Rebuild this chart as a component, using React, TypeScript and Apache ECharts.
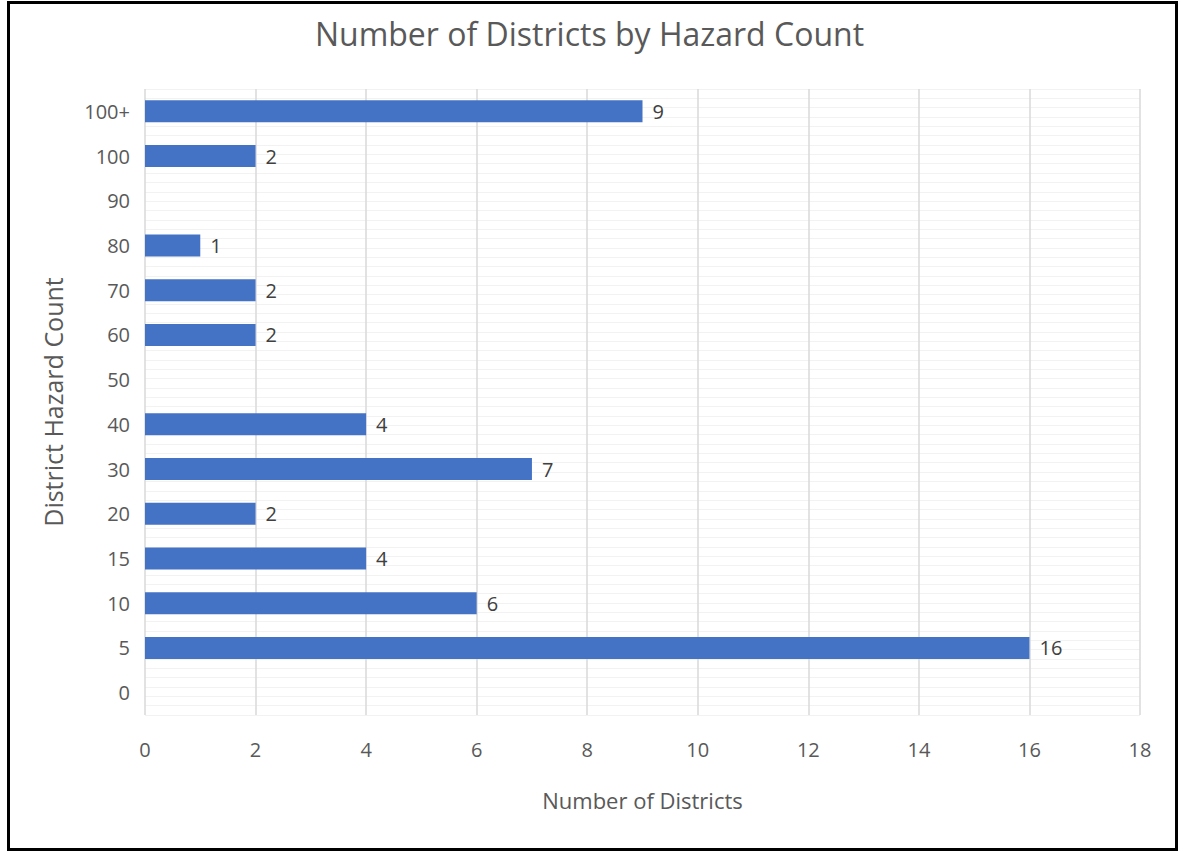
import React, { useEffect, useRef } from "react";
import * as echarts from "echarts";

const categories = ["0", "5", "10", "15", "20", "30", "40", "50", "60", "70", "80", "90", "100", "100+"];
const districtCounts = [null, 16, 6, 4, 2, 7, 4, null, 2, 2, 1, null, 2, 9];
const xTicks = { min: 0, max: 18, interval: 2 };

const FONT = "'Open Sans', 'Noto Sans', sans-serif";
const GREY = "#595959";

export default function App() {
  const ref = useRef<HTMLDivElement>(null);
  useEffect(() => {
    document.body.style.margin = "0";
    const chart = echarts.init(ref.current!, null, { renderer: "svg" });
    chart.setOption({
      animation: false,
      backgroundColor: "#ffffff",
      title: {
        text: "Number of Districts by Hazard Count",
        left: "center",
        top: 12,
        textStyle: { fontFamily: FONT, fontSize: 32, fontWeight: "normal", color: GREY },
      },
      graphic: [
        {
          type: "rect",
          shape: { x: 8.5, y: 2.5, width: 1168, height: 847 },
          style: { fill: "none", stroke: "#000000", lineWidth: 3 },
          silent: true,
        },
      ],
      grid: { left: 145, right: 39, top: 89, bottom: 139 },
      xAxis: {
        type: "value",
        min: xTicks.min,
        max: xTicks.max,
        interval: xTicks.interval,
        name: "Number of Districts",
        nameLocation: "middle",
        nameGap: 74,
        nameTextStyle: { fontFamily: FONT, fontSize: 22, color: GREY },
        axisLine: { show: false },
        axisTick: { show: false },
        axisLabel: { fontFamily: FONT, fontSize: 20, color: GREY, margin: 24 },
        splitLine: { show: true, lineStyle: { color: "#d9d9d9", width: 1.5 } },
      },
      yAxis: [
        {
          type: "category",
          data: categories,
          name: "District Hazard Count",
          nameLocation: "middle",
          nameGap: 80,
          nameTextStyle: { fontFamily: FONT, fontSize: 25, color: GREY },
          axisLine: { show: false },
          axisTick: { show: false },
          axisLabel: { fontFamily: FONT, fontSize: 20, color: GREY, margin: 15 },
          splitLine: { show: false },
        },
        {
          type: "value",
          min: 0,
          max: 67,
          interval: 1,
          position: "left",
          axisLine: { show: false },
          axisTick: { show: false },
          axisLabel: { show: false },
          splitLine: { show: true, lineStyle: { color: "#f2f2f2", width: 1 } },
        },
      ],
      series: [
        {
          type: "bar",
          data: districtCounts,
          xAxisIndex: 0,
          yAxisIndex: 0,
          barWidth: 22,
          itemStyle: { color: "#4472C4" },
          label: {
            show: true,
            position: "right",
            distance: 10,
            fontFamily: FONT,
            fontSize: 20,
            color: "#404040",
          },
          z: 3,
        },
      ],
    });
    return () => chart.dispose();
  }, []);
  return <div ref={ref} style={{ width: 1179, height: 854 }} />;
}
